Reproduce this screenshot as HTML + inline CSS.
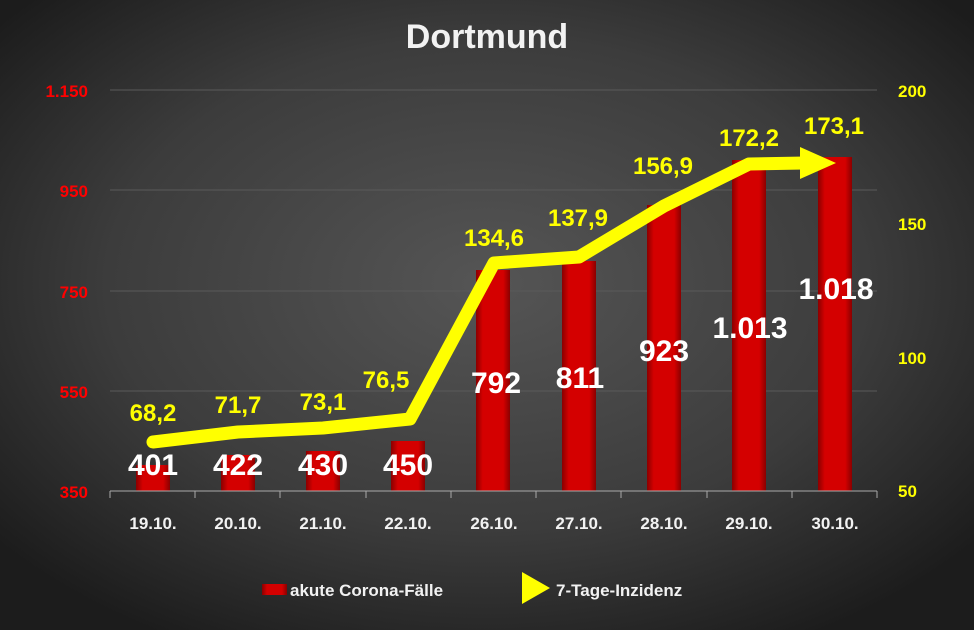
<!DOCTYPE html>
<html><head><meta charset="utf-8"><style>
html,body{margin:0;padding:0;background:#2a2a2a}
svg{display:block}
text{font-family:"Liberation Sans","DejaVu Sans",sans-serif;font-weight:bold}
</style></head><body>
<svg width="974" height="630" viewBox="0 0 974 630" xmlns="http://www.w3.org/2000/svg">
<defs>
<radialGradient id="bg" cx="50%" cy="45%" r="65%">
<stop offset="0" stop-color="#555"/><stop offset="0.6" stop-color="#3c3c3c"/><stop offset="1" stop-color="#1c1c1c"/>
</radialGradient>
<linearGradient id="bar" x1="0" x2="1" y1="0" y2="0">
<stop offset="0" stop-color="#8a0000"/><stop offset="0.2" stop-color="#d40000"/><stop offset="0.8" stop-color="#d40000"/><stop offset="1" stop-color="#8a0000"/>
</linearGradient>
</defs>
<rect width="974" height="630" fill="url(#bg)"/>
<text x="487" y="48" text-anchor="middle" font-size="34" fill="#f2f2f2">Dortmund</text>
<g stroke="#5a5a5a" stroke-width="1">
<line x1="110" y1="90" x2="877" y2="90"/><line x1="110" y1="190" x2="877" y2="190"/>
<line x1="110" y1="291" x2="877" y2="291"/><line x1="110" y1="391" x2="877" y2="391"/>
</g>
<g font-size="17" fill="#ff0000" text-anchor="end">
<text x="88" y="97">1.150</text><text x="88" y="197">950</text><text x="88" y="298">750</text><text x="88" y="398">550</text><text x="88" y="498">350</text>
</g>
<g font-size="17" fill="#ffff00">
<text x="898" y="97">200</text><text x="898" y="230">150</text><text x="898" y="364">100</text><text x="898" y="497">50</text>
</g>
<g fill="url(#bar)">
<rect x="136" y="465" width="34" height="26"/><rect x="221" y="455" width="34" height="36"/>
<rect x="306" y="451" width="34" height="40"/><rect x="391" y="441" width="34" height="50"/>
<rect x="476" y="270" width="34" height="221"/><rect x="562" y="261" width="34" height="230"/>
<rect x="647" y="205" width="34" height="286"/><rect x="732" y="160" width="34" height="331"/>
<rect x="818" y="157" width="34" height="334"/>
</g>
<g stroke="#aaa" stroke-width="1">
<line x1="110" y1="491" x2="877" y2="491"/>
<line x1="110" y1="491" x2="110" y2="498"/><line x1="195" y1="491" x2="195" y2="498"/><line x1="280" y1="491" x2="280" y2="498"/><line x1="366" y1="491" x2="366" y2="498"/><line x1="451" y1="491" x2="451" y2="498"/><line x1="536" y1="491" x2="536" y2="498"/><line x1="621" y1="491" x2="621" y2="498"/><line x1="707" y1="491" x2="707" y2="498"/><line x1="792" y1="491" x2="792" y2="498"/><line x1="877" y1="491" x2="877" y2="498"/>
</g>
<g font-size="17" fill="#f2f2f2" text-anchor="middle">
<text x="153" y="529">19.10.</text><text x="238" y="529">20.10.</text><text x="323" y="529">21.10.</text><text x="408" y="529">22.10.</text><text x="494" y="529">26.10.</text><text x="579" y="529">27.10.</text><text x="664" y="529">28.10.</text><text x="749" y="529">29.10.</text><text x="835" y="529">30.10.</text>
</g>
<polyline points="153,442 238,432 323,428 410,419 494,263 579,257 664,206 749,164 805,163" fill="none" stroke="#ffff00" stroke-width="13" stroke-linejoin="round" stroke-linecap="round"/>
<polygon points="800,147 836,163 800,179" fill="#ffff00"/>
<g font-size="30" fill="#fff" text-anchor="middle">
<text x="153" y="475">401</text><text x="238" y="475">422</text><text x="323" y="475">430</text><text x="408" y="475">450</text>
<text x="496" y="393">792</text><text x="580" y="388">811</text><text x="664" y="361">923</text><text x="750" y="338">1.013</text><text x="836" y="299">1.018</text>
</g>
<g font-size="24" fill="#ffff00" text-anchor="middle">
<text x="153" y="421">68,2</text><text x="238" y="413">71,7</text><text x="323" y="410">73,1</text><text x="386" y="388">76,5</text>
<text x="494" y="246">134,6</text><text x="578" y="226">137,9</text><text x="663" y="174">156,9</text><text x="749" y="146">172,2</text><text x="834" y="134">173,1</text>
</g>
<rect x="262" y="584" width="25" height="11" fill="url(#bar)"/>
<text x="290" y="596" font-size="17" fill="#f2f2f2">akute Corona-Fälle</text>
<polygon points="522,572 550,588 522,604" fill="#ffff00"/>
<text x="556" y="596" font-size="17" fill="#f2f2f2">7-Tage-Inzidenz</text>
</svg>
</body></html>
